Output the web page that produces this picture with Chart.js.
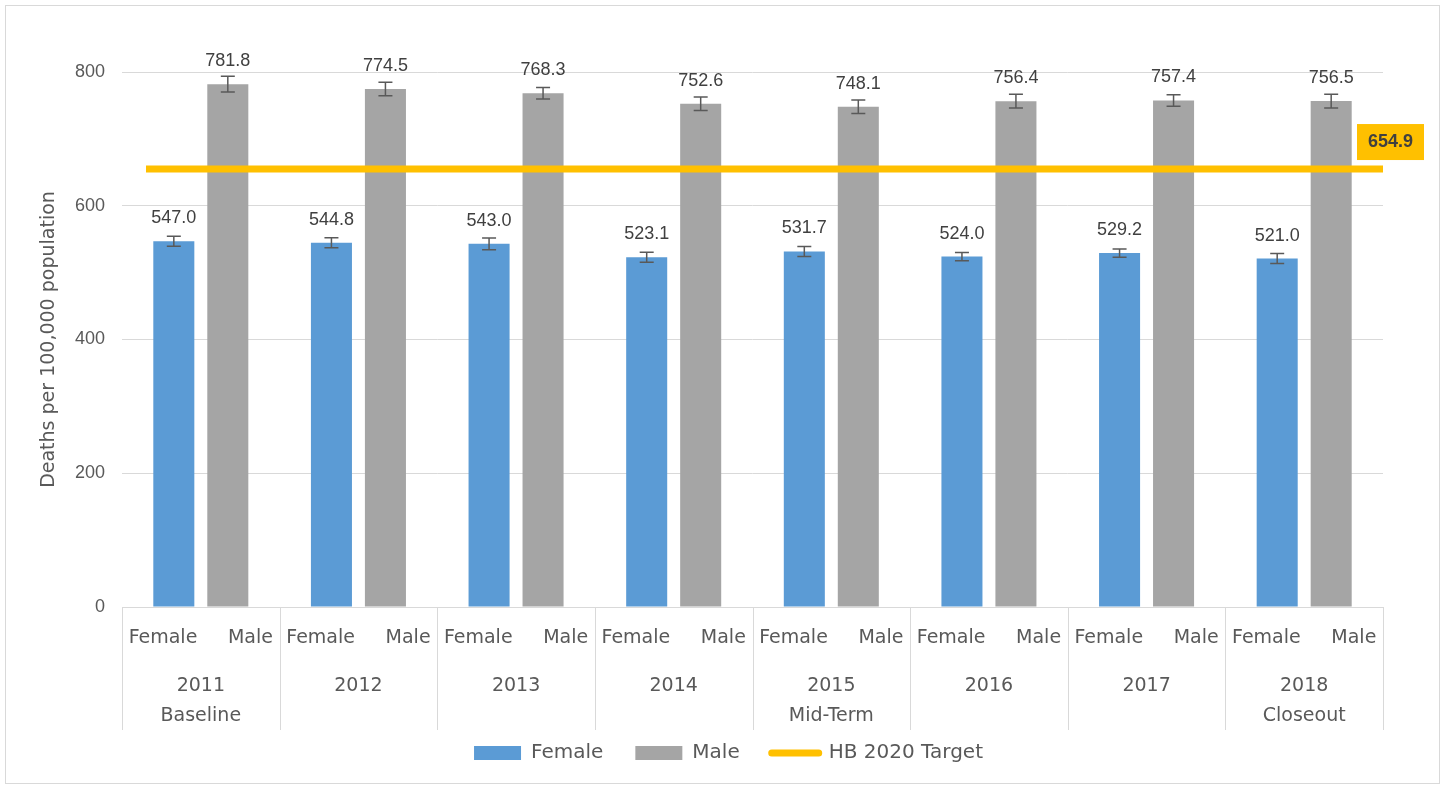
<!DOCTYPE html>
<html>
<head>
<meta charset="utf-8">
<title>Deaths per 100,000 population by sex, 2011-2018</title>
<script src="https://cdn.jsdelivr.net/npm/chart.js@4/dist/chart.umd.min.js"></script>
<style>
  html, body { margin: 0; padding: 0; background: #fff; }
  canvas { display: block; }
</style>
</head>
<body>
<canvas id="deathsChart" width="1447" height="786"></canvas>
<script>
// Rates per year, split by sex
const years = ['2011', '2012', '2013', '2014', '2015', '2016', '2017', '2018'];
const yearNotes = ['Baseline', '', '', '', 'Mid-Term', '', '', 'Closeout'];
const sexes = ['Female', 'Male'];
const femaleRates = [547.0, 544.8, 543.0, 523.1, 531.7, 524.0, 529.2, 521.0];
const maleRates = [781.8, 774.5, 768.3, 752.6, 748.1, 756.4, 757.4, 756.5];
// half-width of the confidence interval drawn as error bars
const femaleErr = [7.5, 7.5, 8.7, 7.5, 7.5, 6.2, 6.2, 7.5];
const maleErr = [11.7, 10.0, 8.5, 10.2, 10.2, 10.2, 8.7, 10.2];
const targetLabel = 'HB 2020 Target';
const targetRate = 654.9;
const yTicks = [0, 200, 400, 600, 800];

const BLUE = '#5B9BD5';
const GREY = '#A5A5A5';
const GOLD = '#FFC000';
const AXIS_TEXT = '#595959';
const LABEL_TEXT = '#404040';
const LINE_GREY = '#D9D9D9';
const NARROW = "'Liberation Sans Narrow', 'Liberation Sans', Arial, sans-serif";
const WIDE = "'DejaVu Sans', Verdana, sans-serif";

const errors = [femaleErr, maleErr];

// white background and thin frame round the whole chart
const chartFrame = {
  id: 'chartFrame',
  beforeDraw(chart) {
    const ctx = chart.ctx;
    ctx.save();
    ctx.fillStyle = '#fff';
    ctx.fillRect(0, 0, chart.width, chart.height);
    ctx.strokeStyle = LINE_GREY;
    ctx.lineWidth = 1;
    ctx.strokeRect(5.5, 5.5, chart.width - 13, chart.height - 8);
    ctx.restore();
  }
};

// centre the legend under the whole canvas rather than the padded box
const legendShift = {
  id: 'legendShift',
  afterLayout(chart) {
    const lg = chart.legend;
    if (lg) {
      lg.left += 37;
      lg.right += 37;
    }
  }
};

// horizontal target line across the plot, with its value tag on the right
const targetLine = {
  id: 'targetLine',
  afterDatasetsDraw(chart) {
    const ctx = chart.ctx;
    const area = chart.chartArea;
    const ty = chart.scales.y.getPixelForValue(targetRate);
    ctx.save();
    ctx.strokeStyle = GOLD;
    ctx.lineWidth = 7;
    ctx.beginPath();
    ctx.moveTo(area.left + 24, ty);
    ctx.lineTo(area.right, ty);
    ctx.stroke();

    const bx = area.right - 26;
    ctx.fillStyle = GOLD;
    ctx.fillRect(bx, ty - 45, 67, 36);
    ctx.fillStyle = LABEL_TEXT;
    ctx.font = "bold 18px 'Liberation Sans', Arial, sans-serif";
    ctx.textAlign = 'center';
    ctx.textBaseline = 'middle';
    ctx.fillText(targetRate.toFixed(1), bx + 33.5, ty - 27);
    ctx.restore();
  }
};

// error bars and value labels above each bar
const barExtras = {
  id: 'barExtras',
  afterDatasetsDraw(chart) {
    const ctx = chart.ctx;
    const y = chart.scales.y;
    ctx.save();
    [0, 1].forEach(di => {
      const meta = chart.getDatasetMeta(di);
      const values = chart.data.datasets[di].data;
      meta.data.forEach((bar, i) => {
        const v = values[i];
        const e = errors[di][i];
        const top = y.getPixelForValue(v + e);
        const bottom = y.getPixelForValue(v - e);
        ctx.strokeStyle = '#595959';
        ctx.lineWidth = 1.5;
        ctx.beginPath();
        ctx.moveTo(bar.x, top);
        ctx.lineTo(bar.x, bottom);
        ctx.moveTo(bar.x - 7, top);
        ctx.lineTo(bar.x + 7, top);
        ctx.moveTo(bar.x - 7, bottom);
        ctx.lineTo(bar.x + 7, bottom);
        ctx.stroke();

        ctx.fillStyle = LABEL_TEXT;
        ctx.font = '18px ' + NARROW;
        ctx.textAlign = 'center';
        ctx.textBaseline = 'middle';
        ctx.fillText(v.toFixed(1), bar.x, bar.y - 23);
      });
    });
    ctx.restore();
  }
};

// two-level category axis: sex under each bar, then year and period note
const multiLevelAxis = {
  id: 'multiLevelAxis',
  afterDraw(chart) {
    const ctx = chart.ctx;
    const x = chart.scales.x;
    const base = chart.chartArea.bottom;
    const w = (x.right - x.left) / years.length;
    ctx.save();
    ctx.strokeStyle = LINE_GREY;
    ctx.lineWidth = 1;
    ctx.beginPath();
    for (let i = 0; i <= years.length; i++) {
      const gx = Math.round(x.left + i * w) + 0.5;
      ctx.moveTo(gx, base);
      ctx.lineTo(gx, base + 123);
    }
    ctx.stroke();

    ctx.fillStyle = AXIS_TEXT;
    ctx.font = '19px ' + WIDE;
    ctx.textAlign = 'center';
    ctx.textBaseline = 'middle';
    years.forEach((yr, i) => {
      const left = x.left + i * w;
      ctx.fillText(sexes[0], left + w * 0.26, base + 31);
      ctx.fillText(sexes[1], left + w * 0.815, base + 31);
      const cx = x.getPixelForValue(i);
      ctx.fillText(yr, cx, base + 79);
      if (yearNotes[i]) ctx.fillText(yearNotes[i], cx, base + 109);
    });
    ctx.restore();
  }
};

new Chart(document.getElementById('deathsChart'), {
  type: 'bar',
  data: {
    labels: years,
    datasets: [
      { label: sexes[0], data: femaleRates, backgroundColor: BLUE },
      { label: sexes[1], data: maleRates, backgroundColor: GREY }
    ]
  },
  options: {
    responsive: false,
    animation: false,
    categoryPercentage: 0.685,
    barPercentage: 0.76,
    layout: { padding: { top: 72, right: 64, bottom: 13, left: 0 } },
    scales: {
      x: {
        grid: { display: false },
        border: { display: true, color: LINE_GREY },
        ticks: { display: false },
        afterFit(scale) { scale.height = 104; }
      },
      y: {
        min: 0,
        max: 800,
        afterBuildTicks(scale) { scale.ticks = yTicks.map(v => ({ value: v })); },
        afterFit(scale) { scale.width = 122; },
        grid: { color: LINE_GREY, drawTicks: false },
        border: { display: false },
        ticks: {
          padding: 17,
          color: AXIS_TEXT,
          font: { family: NARROW, size: 18 }
        },
        title: {
          display: true,
          text: 'Deaths per 100,000 population',
          color: AXIS_TEXT,
          font: { family: WIDE, size: 19 },
          padding: { top: 38, bottom: 0 }
        }
      }
    },
    plugins: {
      tooltip: { enabled: false },
      legend: {
        position: 'bottom',
        labels: {
          usePointStyle: true,
          pointStyleWidth: 47,
          boxHeight: 14,
          padding: 32,
          color: AXIS_TEXT,
          font: { family: WIDE, size: 20 },
          generateLabels(chart) {
            const items = Chart.defaults.plugins.legend.labels.generateLabels(chart);
            items.forEach(it => {
              it.pointStyle = 'rect';
              it.lineWidth = 0;
            });
            // legend entry for the target line
            items.push({
              text: targetLabel,
              fillStyle: GOLD,
              strokeStyle: GOLD,
              fontColor: AXIS_TEXT,
              lineWidth: 7,
              lineCap: 'round',
              pointStyle: 'line',
              hidden: false,
              datasetIndex: 2
            });
            return items;
          }
        }
      }
    }
  },
  plugins: [chartFrame, legendShift, targetLine, barExtras, multiLevelAxis]
});
</script>
</body>
</html>
